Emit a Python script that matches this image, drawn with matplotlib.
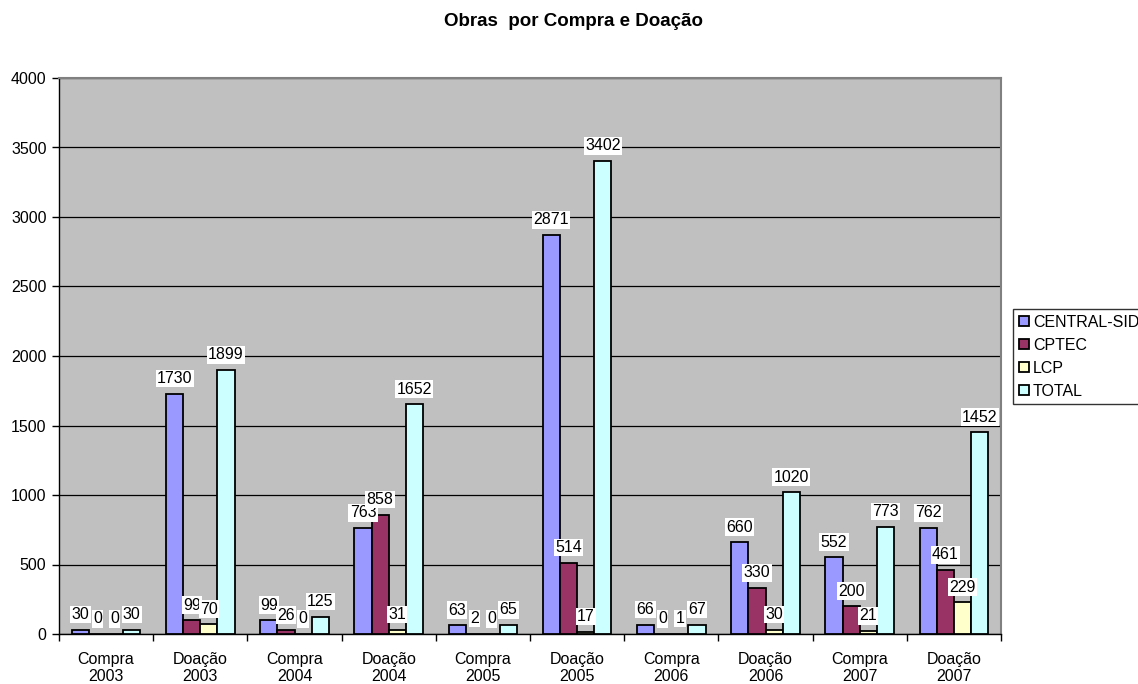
import numpy as np
import matplotlib.pyplot as plt

plt.rcParams['font.family'] = ['Liberation Sans', 'DejaVu Sans']

# categorias (tipo de aquisição / ano)
categorias = ['Compra\n2003', 'Doação\n2003', 'Compra\n2004', 'Doação\n2004',
              'Compra\n2005', 'Doação\n2005', 'Compra\n2006', 'Doação\n2006',
              'Compra\n2007', 'Doação\n2007']

central_sid = [30, 1730, 99, 763, 63, 2871, 66, 660, 552, 762]
cptec = [0, 99, 26, 858, 2, 514, 0, 330, 200, 461]
lcp = [0, 70, 0, 31, 0, 17, 1, 30, 21, 229]
total = [30, 1899, 125, 1652, 65, 3402, 67, 1020, 773, 1452]

series = [('CENTRAL-SID', central_sid, '#9999FF'),
          ('CPTEC', cptec, '#993366'),
          ('LCP', lcp, '#FFFFCC'),
          ('TOTAL', total, '#CCFFFF')]

fs = 11.5

fig = plt.figure(figsize=(11.38, 6.84), dpi=100)
ax = fig.add_axes([59/1138, 1 - 634/684, (1001 - 59)/1138, (634 - 78)/684])
ax.set_facecolor('#C0C0C0')

x = np.arange(len(categorias))
w = 1 / 5.5
for k, (nome, vals, cor) in enumerate(series):
    pos = x + (k - 1.5) * w
    bars = ax.bar(pos, vals, w, color=cor, edgecolor='black', linewidth=1.3,
                  label=nome, zorder=3)
    for b, v in zip(bars, vals):
        ax.annotate(str(v), (b.get_x() + b.get_width() / 2, v),
                    xytext=(0, 5.5), textcoords='offset points',
                    ha='center', va='bottom', fontsize=fs, zorder=5,
                    bbox=dict(boxstyle='square,pad=0.08', fc='white', ec='none'))

ax.set_xlim(-0.5, len(categorias) - 0.5)
ax.set_ylim(0, 4000)
ax.set_yticks(np.arange(0, 4001, 500))
ax.yaxis.grid(True, color='black', linewidth=0.9, zorder=0)
ax.set_axisbelow(True)

# ticks nas divisões, rótulos no centro
ax.set_xticks(np.arange(-0.5, len(categorias)), labels=[''] * (len(categorias) + 1))
ax.set_xticks(x, labels=categorias, minor=True)
ax.tick_params(axis='x', which='minor', length=0, pad=13, labelsize=fs)
ax.tick_params(axis='x', which='major', length=5, width=1)
ax.tick_params(axis='y', length=5, width=1, labelsize=fs, pad=4)

for s in ['top', 'right']:
    ax.spines[s].set_color('#808080')
    ax.spines[s].set_linewidth(1.5)
for s in ['left', 'bottom']:
    ax.spines[s].set_color('black')
    ax.spines[s].set_linewidth(1)

fig.text(574/1138, 1 - 21/684, 'Obras  por Compra e Doação', ha='center',
         va='center', fontsize=13.5, fontweight='bold')

leg = fig.legend(loc='upper left', bbox_to_anchor=(1013/1138, 1 - 309/684),
                 fontsize=fs, frameon=True, fancybox=False, edgecolor='black',
                 handlelength=0.65, handleheight=0.65, handletextpad=0.25,
                 labelspacing=0.5, borderpad=0.35, borderaxespad=0)
leg.get_frame().set_linewidth(1)

fig.savefig('out.png', dpi=100)
